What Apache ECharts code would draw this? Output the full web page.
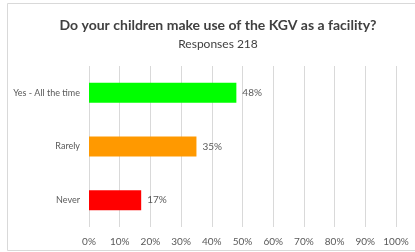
<!DOCTYPE html>
<html lang="en">
<head>
    <meta charset="UTF-8">
    <title>KGV facility</title>
    <script src="https://cdn.jsdelivr.net/npm/echarts@6/dist/echarts.min.js"></script>
    <style>
        html, body { margin: 0; padding: 0; background: #fff; }
        #main { width: 415px; height: 252px; }
    </style>
</head>
<body>
<div id="main"></div>
<script>
    // answers and percentages
    var categories = ['Yes - All the time', 'Rarely', 'Never'];
    var percents = [48, 35, 17];
    var barColors = ['#00ff00', '#ff9900', '#ff0000'];
    var tickValues = [0, 10, 20, 30, 40, 50, 60, 70, 80, 90, 100];

    var font = 'Lato, "Open Sans", sans-serif';

    var myChart = echarts.init(document.getElementById('main'));
    myChart.setOption({
        animation: false,
        graphic: [{
            type: 'rect',
            shape: { x: 7.5, y: 3.5, width: 420, height: 247 },
            style: { fill: 'none', stroke: '#d9d9d9', lineWidth: 1 },
            silent: true
        }],
        title: {
            text: 'Do your children make use of the KGV as a facility?',
            subtext: 'Responses 218',
            left: 213,
            textAlign: 'center',
            top: 13,
            itemGap: 6,
            textStyle: { fontFamily: font, fontSize: 14, fontWeight: 'bold', color: '#404040' },
            subtextStyle: { fontFamily: font, fontSize: 12, color: '#404040' }
        },
        grid: { left: 89, right: 19, top: 66, bottom: 25, containLabel: false },
        xAxis: {
            type: 'value',
            min: tickValues[0],
            max: tickValues[tickValues.length - 1],
            interval: 10,
            axisLine: { show: false },
            axisTick: { show: false },
            axisLabel: {
                formatter: '{value}%',
                fontFamily: font, fontSize: 10, color: '#595959', margin: 10
            },
            splitLine: { lineStyle: { color: '#d9d9d9', width: 1 } }
        },
        yAxis: {
            type: 'category',
            inverse: true,
            data: categories,
            axisLine: { show: false },
            axisTick: { show: false },
            axisLabel: { fontFamily: font, fontSize: 9, color: '#595959', margin: 9 }
        },
        series: [{
            type: 'bar',
            barWidth: 20,
            data: percents.map(function (v, i) {
                return { value: v, itemStyle: { color: barColors[i] } };
            }),
            label: {
                show: true,
                position: 'right',
                distance: 6,
                formatter: '{c}%',
                fontFamily: font, fontSize: 10, color: '#595959'
            }
        }]
    });
</script>
</body>
</html>
